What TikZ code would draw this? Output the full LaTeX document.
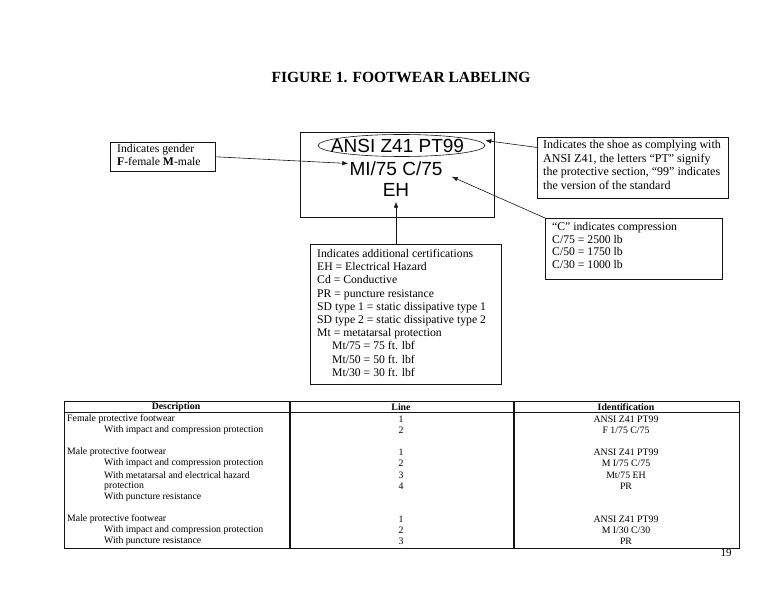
\documentclass[tikz,border=0pt]{standalone}
\usepackage{fontspec}
\setmainfont{Liberation Serif}
\newfontfamily\labelfont{Liberation Sans}
\usetikzlibrary{arrows.meta,calc,shapes.geometric}
\definecolor{LineClr}{RGB}{20,20,20}

\tikzset{
  infobox/.style={draw=LineClr,line width=0.6pt,anchor=north west,inner sep=0pt},
  boxtext/.style={anchor=north west,align=left,inner sep=0pt,
    font=\fontsize{11.7}{13.2}\selectfont},
  marktext/.style={font=\labelfont\fontsize{19}{22}\selectfont,inner sep=1pt},
  pointer/.style={draw=LineClr,line width=0.6pt,-{Latex[length=6pt,width=4.5pt]}},
  celltext/.style={font=\fontsize{9.8}{11}\selectfont,inner sep=0pt},
  headtext/.style={font=\bfseries\fontsize{9.8}{11}\selectfont,inner sep=0pt},
  rule/.style={draw=LineClr,line width=0.7pt}
}

\begin{document}
\begin{tikzpicture}[x=1pt,y=-1pt]
\useasboundingbox (0,0) rectangle (768,593);

\node[font=\bfseries\fontsize{15.5}{18}\selectfont] (title) at (401,77) {FIGURE 1. FOOTWEAR LABELING};

% the marking on the shoe
\node[infobox,minimum width=194,minimum height=85] (label) at (300,132) {};
\node[marktext] (ansi) at (397.5,146) {ANSI Z41 PT99};
\node[draw=LineClr,line width=0.6pt,ellipse,minimum width=167,minimum height=22,inner sep=0pt] (ring) at (401.5,145.5) {};
\node[marktext] (mi) at (396,168.5) {MI/75 C/75};
\node[marktext] (eh) at (396,190) {EH};

% explanations
\node[infobox,minimum width=105,minimum height=29] (gender) at (110,142) {};
\node[boxtext] (gendertxt) at (117,144) {Indicates gender\\ \textbf{F}-female \textbf{M}-male};

\node[infobox,minimum width=191,minimum height=61] (std) at (537,137) {};
\node[boxtext,font=\fontsize{12}{13.6}\selectfont] (stdtxt) at (543,140) {Indicates the shoe as complying with\\
  ANSI Z41, the letters ``PT'' signify\\
  the protective section, ``99'' indicates\\
  the version of the standard};

\node[infobox,minimum width=177,minimum height=61] (comp) at (545,218) {};
\node[boxtext,font=\fontsize{11.7}{12.7}\selectfont] (comptxt) at (552,222) {``C'' indicates compression\\
  C/75 = 2500 lb\\ C/50 = 1750 lb\\ C/30 = 1000 lb};

\node[infobox,minimum width=191,minimum height=140] (certs) at (310,244) {};
\node[boxtext] (certstxt) at (317,249) {Indicates additional certifications\\
  EH = Electrical Hazard\\
  Cd = Conductive\\
  PR = puncture resistance\\
  SD type 1 = static dissipative type 1\\
  SD type 2 = static dissipative type 2\\
  Mt = metatarsal protection\\
  \hspace*{15pt}Mt/75 = 75 ft. lbf\\
  \hspace*{15pt}Mt/50 = 50 ft. lbf\\
  \hspace*{15pt}Mt/30 = 30 ft. lbf};

\draw[pointer] (gender.east) -- ([yshift=5pt]mi.west);
\draw[pointer] ($(std.north west)!0.17!(std.south west)$) -- ([yshift=5pt]ring.east);
\draw[pointer] (comp.north west) -- ([xshift=8pt]mi.south east);
\draw[pointer] (eh.south |- certs.north) -- ([yshift=-4pt]eh.south);

% table
\coordinate (tl) at (64,401);
\coordinate (br) at (739,548);
\draw[rule] (tl) rectangle (br);
\draw[rule] (64,412) -- (739,412);
\draw[rule,line width=1.1pt] (290,401) -- (290,548);
\draw[rule,line width=1.1pt] (514,401) -- (514,548);

\node[headtext] (hd) at (176,407) {Description};
\node[headtext] (hl) at (401,407) {Line};
\node[headtext] (hi) at (626,407) {Identification};

\foreach \y/\d in {419/Female protective footwear,452/Male protective footwear,519/Male protective footwear}
  \node[celltext,anchor=west] (d\y) at (67,\y) {\d};
\foreach \y/\d in {430/With impact and compression protection,463/With impact and compression protection,
  475/With metatarsal and electrical hazard,486/protection,497/With puncture resistance,
  530/With impact and compression protection,541/With puncture resistance}
  \node[celltext,anchor=west] (d\y) at (104,\y) {\d};

\foreach \y/\l/\i in {419/1/{ANSI Z41 PT99},430/2/{F 1/75 C/75},452/1/{ANSI Z41 PT99},463/2/{M I/75 C/75},
  475/3/{Mt/75 EH},486/4/{PR},519/1/{ANSI Z41 PT99},530/2/{M I/30 C/30},541/3/{PR}}
{
  \node[celltext] (l\y) at (401,\y) {\l};
  \node[celltext] (i\y) at (626,\y) {\i};
}

\node[celltext,font=\fontsize{11}{12}\selectfont] (page) at (726,553) {19};

\end{tikzpicture}
\end{document}
